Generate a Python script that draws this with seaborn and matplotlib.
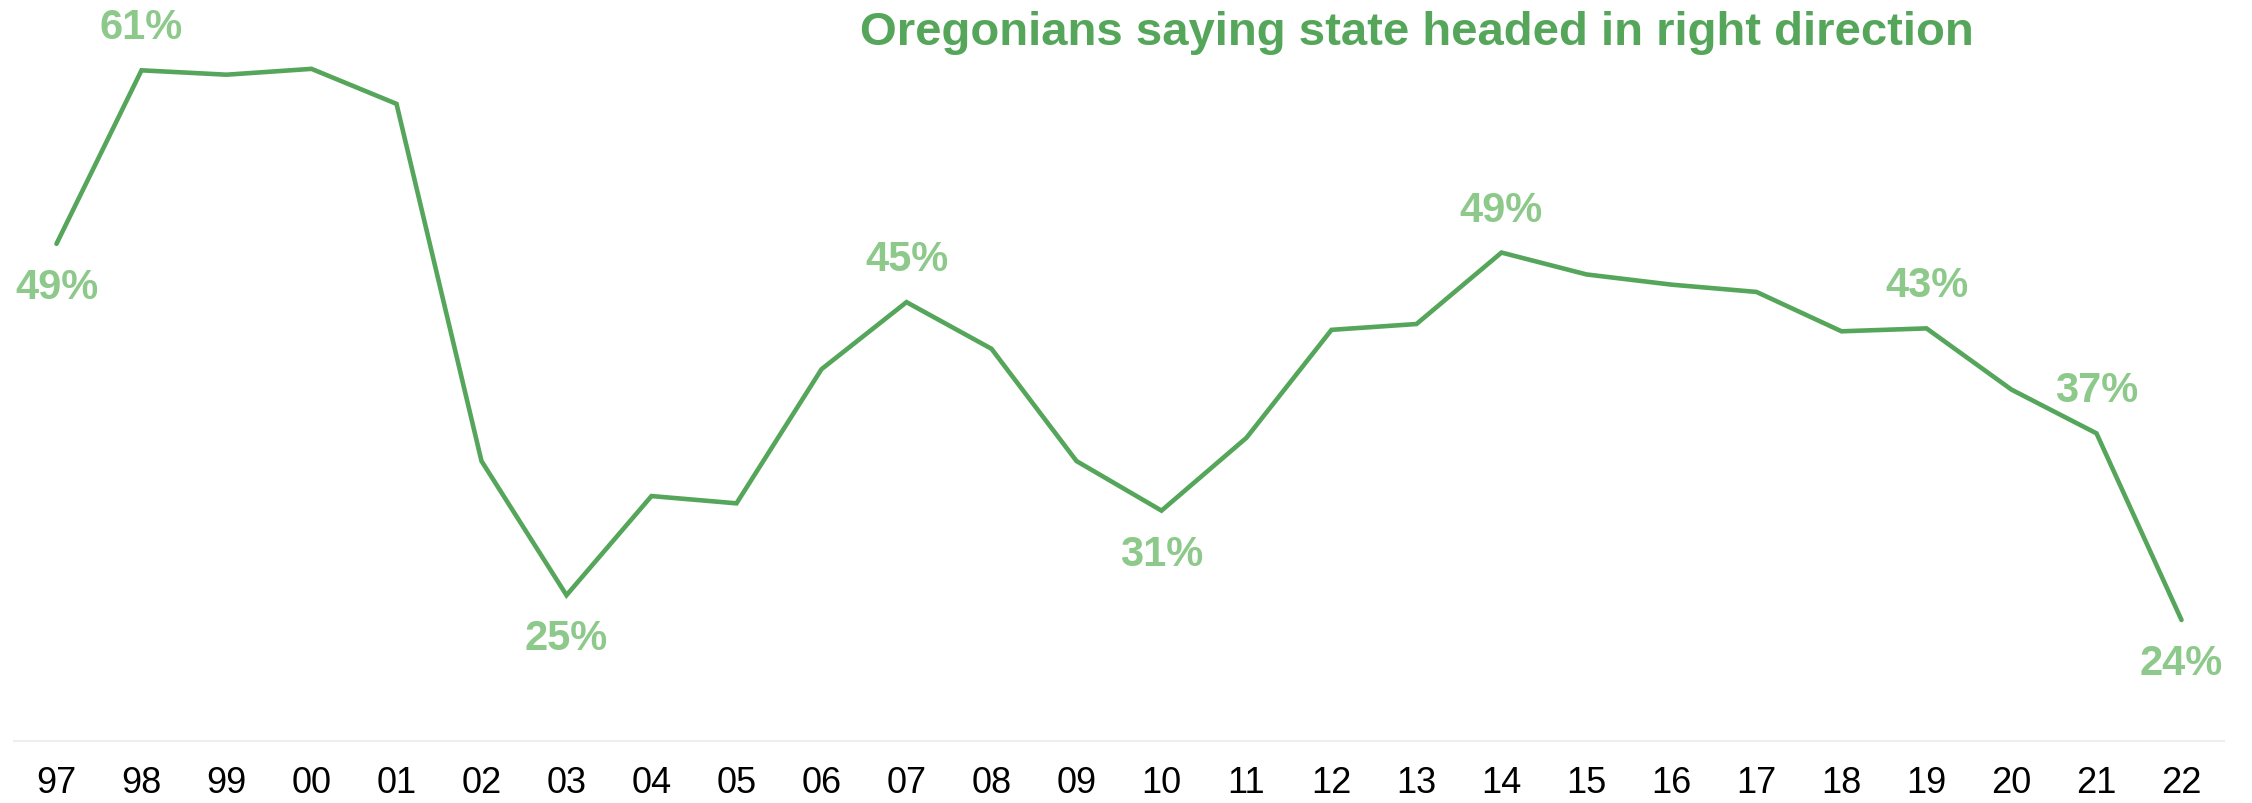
import pandas as pd
import matplotlib.pyplot as plt
import seaborn as sns

# Share of Oregonians saying the state is headed in the right direction
years = ['97', '98', '99', '00', '01', '02', '03', '04', '05', '06', '07', '08', '09',
         '10', '11', '12', '13', '14', '15', '16', '17', '18', '19', '20', '21', '22']
right_direction = [49.1, 61.0, 60.7, 61.1, 58.7, 34.2, 25.0, 31.8, 31.3, 40.5, 45.1, 41.9, 34.2,
                   30.8, 35.8, 43.2, 43.6, 48.5, 47.0, 46.3, 45.8, 43.1, 43.3, 39.1, 36.1, 23.3]

# labelled points: year, label value, above (1) or below (-1)
label_years = ['97', '98', '03', '07', '10', '14', '19', '21', '22']
label_values = [49, 61, 25, 45, 31, 49, 43, 37, 24]
label_side = [-1, 1, -1, 1, -1, 1, 1, 1, -1]

line_color = '#55A65A'
label_color = '#8DC98B'

df = pd.DataFrame({'year': years, 'pct': right_direction})

sns.set_style('white')
plt.rcParams['font.family'] = ['Liberation Sans', 'DejaVu Sans']

fig = plt.figure(figsize=(22.52, 8.04), dpi=100)
ax = fig.add_axes([14 / 2252, 62 / 804, 2210 / 2252, 729 / 804])

sns.lineplot(data=df, x='year', y='pct', color=line_color, linewidth=3.3, ax=ax,
             solid_capstyle='round', solid_joinstyle='miter')

for yr, val, side in zip(label_years, label_values, label_side):
    i = years.index(yr)
    ax.annotate(f'{val}%', xy=(i, right_direction[i]), xytext=(0, 31 * side),
                textcoords='offset points', ha='center', va='center',
                fontsize=30, fontweight='bold', color=label_color)

ax.text(0.635, 0.972, 'Oregonians saying state headed in right direction',
        transform=ax.transAxes, ha='center', va='center',
        fontsize=34, fontweight='bold', color=line_color)

ax.set_xlim(-0.5, 25.5)
ax.set_ylim(15, 65)
ax.set_xlabel('')
ax.set_ylabel('')
ax.set_yticks([])
ax.tick_params(axis='x', length=0, pad=17, labelsize=26, labelcolor='black')
sns.despine(ax=ax, left=True, top=True, right=True)
ax.spines['bottom'].set_color('#EEEEEE')
ax.spines['bottom'].set_linewidth(1.5)
ax.grid(False)

fig.savefig('out.png', dpi=100)
